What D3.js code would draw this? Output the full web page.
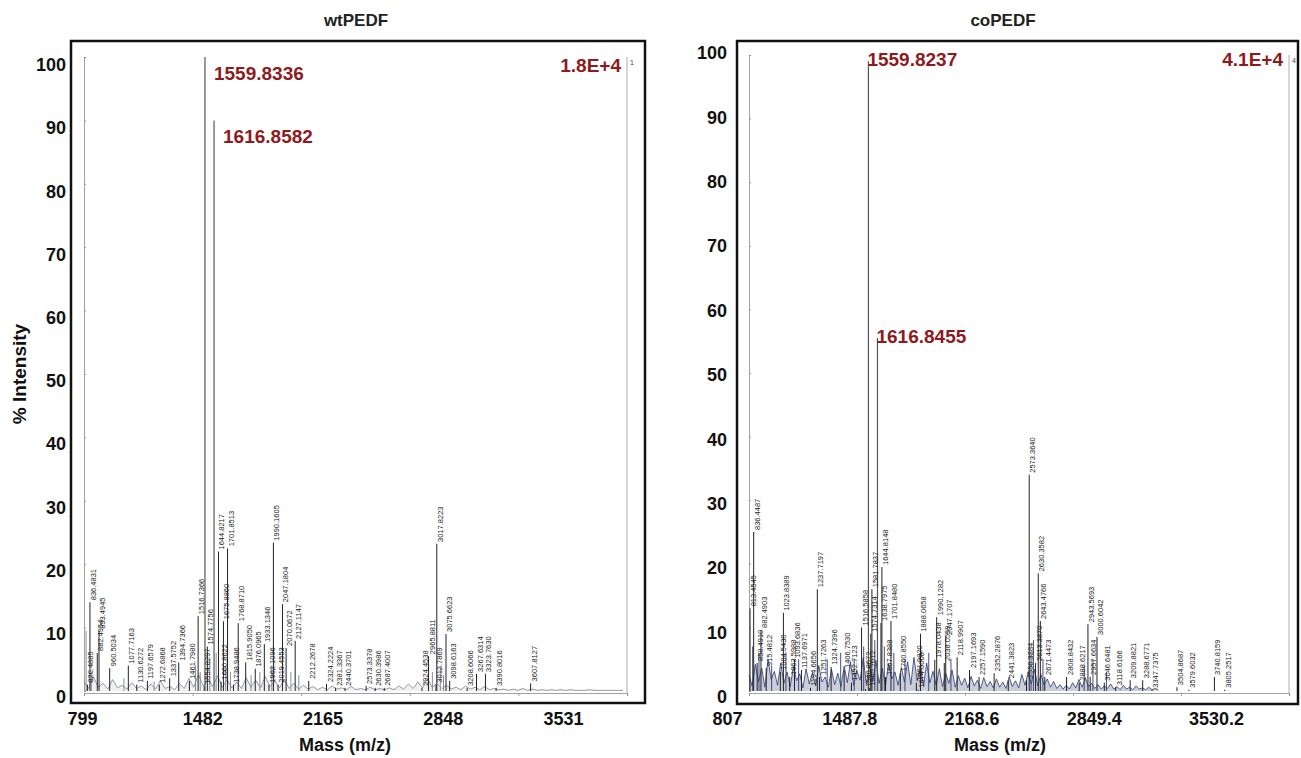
<!DOCTYPE html>
<html>
<head>
<meta charset="utf-8">
<script src="https://cdn.jsdelivr.net/npm/d3@7"></script>
<style>
  body { margin: 0; background: #fff; }
  svg { display: block; font-family: "Liberation Sans", Arial, sans-serif; }
</style>
</head>
<body>
<svg id="chart" width="1301" height="758"></svg>
<script>
// ── Data ──────────────────────────────────────────────────────────────────────
const yTicks = [0, 10, 20, 30, 40, 50, 60, 70, 80, 90, 100];

// wtPEDF
const wtXTicks = ["799", "1482", "2165", "2848", "3531"];
const wtDomain = [799, 4214];
const wtBaseScale = "1.8E+4";
const wtCornerMark = "1";
const wtPeakMz = [
  820.4885, 836.4831, 882.4954, 893.4945, 960.5034, 1077.7163, 1130.6272, 1197.6579,
  1272.6868, 1337.5752, 1394.7366, 1461.798, 1516.7366, 1554.8297, 1559.8336, 1574.7756,
  1616.8582, 1644.8217, 1660.8622, 1675.886, 1701.8513, 1738.9486, 1768.871, 1815.905,
  1876.0965, 1933.1346, 1962.1096, 1990.1605, 2019.4553, 2047.1804, 2070.0672, 2127.1147,
  2212.2678, 2324.2224, 2381.3367, 2440.3701, 2573.3378, 2630.3986, 2687.4007, 2924.4538,
  2965.8811, 3012.7869, 3017.8223, 3075.6623, 3098.6163, 3208.6066, 3267.6314, 3323.763,
  3390.8016, 3607.8127,
];
const wtPeakInt = [
  1.0, 14.0, 6.0, 9.5, 3.6, 4.0, 1.0, 1.6,
  1.0, 2.0, 4.5, 1.6, 11.8, 0.8, 100, 7.0,
  90, 22.0, 1.5, 11.0, 22.5, 1.0, 10.7, 4.5,
  3.5, 7.4, 1.0, 23.4, 1.0, 13.7, 6.8, 7.9,
  1.6, 1.1, 0.5, 0.5, 0.8, 0.5, 0.5, 0.5,
  5.5, 1.0, 23.2, 9.0, 1.6, 0.5, 2.7, 2.7,
  0.5, 1.2,
];
const wtMajor = [1559.8336, 1616.8582];
const wtMinorMz = [812, 845, 1050, 1240, 1500, 1530, 1590, 1630, 1690, 1720, 1850, 1905, 1980, 2100, 2150, 2990, 3040, 3060];
const wtMinorInt = [9.5, 3, 2, 1.5, 4, 3, 5, 6, 4, 3, 2.5, 3, 4, 3, 2.5, 3, 4, 2.5];
const wtNoiseStart = 799, wtNoiseStep = 30;
const wtNoise = [
  1.5, 0.4, 2.2, 0.6, 1.2, 0.3, 1.8, 0.5, 0.9, 0.3,
  1.3, 0.4, 0.8, 0.2, 1.1, 0.3, 1.6, 0.4, 0.7, 0.2,
  1.2, 0.4, 2.0, 0.6, 2.6, 0.8, 1.9, 0.7, 2.4, 0.6,
  1.8, 0.5, 1.4, 0.4, 2.1, 0.6, 1.7, 0.5, 2.3, 0.7,
  1.6, 0.5, 1.9, 0.4, 1.2, 0.3, 0.9, 0.3, 0.7, 0.2,
  0.6, 0.2, 0.8, 0.3, 0.5, 0.2, 0.7, 0.2, 0.4, 0.2,
  0.6, 0.2, 0.4, 0.2, 0.5, 0.2, 0.8, 0.3, 1.1, 0.4,
  1.4, 0.5, 1.9, 0.6, 1.2, 0.4, 0.9, 0.3, 0.6, 0.2,
  0.8, 0.3, 0.6, 0.2, 0.7, 0.2, 0.4, 0.2, 0.3, 0.1,
  0.3, 0.1, 0.4, 0.1, 0.3, 0.1, 0.2, 0.1, 0.2, 0.1,
  0.2, 0.1, 0.2, 0.1, 0.1, 0.1, 0.2, 0.1, 0.1, 0.1, 0.1, 0.1, 0.1, 0.1,
];

// coPEDF
const coXTicks = ["807", "1487.8", "2168.6", "2849.4", "3530.2"];
const coDomain = [807, 4211];
const coBaseScale = "4.1E+4";
const coCornerMark = "4";
const coPeakMz = [
  813.4545, 836.4487, 858.491, 882.4903, 915.4812, 1004.543, 1023.8389, 1063.5988,
  1093.6836, 1137.6971, 1194.6656, 1237.7197, 1251.7263, 1324.7396, 1406.753, 1452.7123,
  1516.5858, 1540.8672, 1559.8237, 1565.7612, 1574.7314, 1581.7837, 1616.8455, 1638.7975,
  1644.8148, 1667.8388, 1701.848, 1760.855, 1861.982, 1874.0008, 1888.0658, 1978.0438,
  1990.1282, 2038.0559, 2047.1707, 2118.9907, 2197.1693, 2257.159, 2352.2876, 2441.3823,
  2556.3384, 2573.364, 2613.387, 2630.3582, 2643.4766, 2671.4473, 2808.8432, 2888.6217,
  2943.5693, 2957.6634, 3000.6042, 3046.6481, 3118.6166, 3209.8821, 3288.6771, 3347.7375,
  3504.8687, 3579.6032, 3740.8159, 3805.2517,
];
const coPeakInt = [
  13, 25, 4.4, 9.6, 3.6, 3.0, 12.3, 2.2,
  4.9, 3.3, 0.5, 16, 2.2, 3.8, 3.3, 1.3,
  10, 0.3, 99, 0.5, 9.0, 16, 55.5, 10.7,
  19.5, 2.2, 11, 2.8, 1.3, 0.2, 9.0, 4.9,
  11.6, 4.4, 8.5, 5.3, 3.3, 2.2, 2.8, 1.7,
  1.7, 34, 4.4, 18.5, 11, 2.2, 2.2, 1.3,
  10.5, 2.2, 8.5, 1.3, 0.6, 1.7, 1.7, 0.2,
  0.6, 0.2, 2.2, 0.2,
];
const coMajor = [1559.8237, 1616.8455];
const coMinorMz = [830, 870, 950, 1040, 1120, 1300, 1385, 1470, 1530, 1600, 1660, 1720, 1790, 1940, 2080, 2585, 2600, 2660, 2920, 2975, 3060];
const coMinorInt = [7, 6, 4, 6, 5, 5, 6, 5, 7, 8, 7, 6, 5, 6, 5, 6, 8, 5, 4, 5, 3];
const coNoiseStart = 807, coNoiseStep = 20;
const coNoise = [
  2.5, 0.8, 4.2, 1.5, 3.6, 0.6, 5.0, 1.8, 3.1, 0.9,
  4.4, 1.2, 3.0, 0.7, 3.8, 1.6, 2.7, 0.5, 3.5, 1.1,
  2.9, 0.8, 4.0, 1.4, 2.2, 0.6, 3.4, 1.0, 2.8, 0.7,
  3.9, 1.3, 4.6, 0.9, 3.2, 1.7, 5.2, 1.1, 4.0, 1.5,
  4.8, 1.2, 3.6, 0.8, 4.3, 1.9, 3.0, 0.9, 3.7, 1.4,
  4.6, 1.0, 5.3, 1.6, 3.9, 0.8, 4.4, 1.3, 3.1, 0.9,
  3.5, 0.7, 2.8, 1.2, 3.3, 0.6, 2.4, 0.9, 2.0, 0.5,
  2.3, 0.8, 1.7, 0.4, 2.1, 0.7, 1.5, 0.5, 1.9, 0.6,
  1.4, 0.4, 2.2, 0.7, 1.6, 0.5, 2.6, 0.9, 3.0, 1.1,
  3.4, 0.8, 2.6, 1.0, 1.9, 0.6, 1.5, 0.4, 1.0, 0.3,
  0.9, 0.3, 1.3, 0.5, 1.8, 0.6, 2.1, 0.7, 1.2, 0.4,
  1.0, 0.3, 0.8, 0.4, 1.1, 0.3, 0.7, 0.2, 0.9, 0.3,
  0.6, 0.2, 0.8, 0.3, 0.5, 0.2, 0.6, 0.2, 0.4, 0.2,
];

// ── Drawing ───────────────────────────────────────────────────────────────────
const svg = d3.select("#chart");
const RED = "#8f1a1d";

function drawPanel(p) {
  const g = svg.append("g");
  const x = d3.scaleLinear().domain(p.domain).range(p.specX);
  const y = d3.scaleLinear().domain([0, 100]).range(p.specY);
  const yLab = d3.scaleLinear().domain([0, 100]).range(p.labelY);
  const xLab = d3.scalePoint().domain(p.xTicks).range(p.labelX);

  // outer frame
  g.append("rect")
    .attr("x", p.frame[0]).attr("y", p.frame[1])
    .attr("width", p.frame[2] - p.frame[0])
    .attr("height", p.frame[3] - p.frame[1])
    .attr("fill", "none").attr("stroke", "#111").attr("stroke-width", 2.5);

  // spectrum's own thin axes
  const innerX = g.append("g")
    .attr("transform", `translate(0,${p.specY[0] + 2})`)
    .call(d3.axisBottom(x).tickValues(p.xTicks.map(Number).concat(p.domain[1])).tickSize(3).tickFormat(""));
  const innerY = g.append("g")
    .attr("transform", `translate(${p.specX[0]},0)`)
    .call(d3.axisLeft(y).tickValues(yTicks).tickSize(-2).tickFormat(""));
  [innerX, innerY].forEach((a) => a.selectAll("path,line").attr("stroke", "#8a8a8a").attr("stroke-width", 0.8));
  g.append("line")
    .attr("x1", p.specX[1]).attr("x2", p.specX[1])
    .attr("y1", y(100)).attr("y2", p.specY[0] + 2)
    .attr("stroke", "#9a9a9a").attr("stroke-width", 0.8);
  g.append("text")
    .attr("x", p.specX[1] + 3).attr("y", y(100) + 8)
    .attr("font-size", 7).attr("fill", "#444")
    .text(p.cornerMark);

  // baseline noise trace
  const noisePts = p.noise.map((v, i) => [p.noiseStart + i * p.noiseStep, v]);
  g.append("path")
    .datum(noisePts)
    .attr("d", d3.area().x((d) => x(d[0])).y0(y(0)).y1((d) => y(d[1])))
    .attr("fill", p.noiseColor).attr("fill-opacity", p.noiseFill);
  g.append("path")
    .datum(noisePts)
    .attr("d", d3.line().x((d) => x(d[0])).y((d) => y(d[1])))
    .attr("fill", "none").attr("stroke", p.noiseColor).attr("stroke-width", 0.8);

  // unlabelled peaks
  g.append("g").selectAll("line")
    .data(p.minorMz.map((m, i) => [m, p.minorInt[i]]))
    .join("line")
    .attr("x1", (d) => x(d[0])).attr("x2", (d) => x(d[0]))
    .attr("y1", y(0)).attr("y2", (d) => y(d[1]))
    .attr("stroke", p.noiseColor).attr("stroke-width", 0.9);

  // labelled peaks
  const peaks = p.peakMz.map((m, i) => ({ mz: m, v: p.peakInt[i], major: p.major.includes(m) }));
  g.append("g").selectAll("line")
    .data(peaks)
    .join("line")
    .attr("x1", (d) => x(d.mz)).attr("x2", (d) => x(d.mz))
    .attr("y1", y(0)).attr("y2", (d) => y(d.v))
    .attr("stroke", (d) => (d.major ? "#555" : "#222"))
    .attr("stroke-width", (d) => (d.major ? 1.2 : 1));

  g.append("g").selectAll("text")
    .data(peaks.filter((d) => !d.major))
    .join("text")
    .attr("transform", (d) => `translate(${x(d.mz) + 6},${y(d.v) - 2}) rotate(-90)`)
    .attr("font-family", '"Liberation Sans Narrow", "Arial Narrow", "Liberation Sans", sans-serif')
    .attr("font-size", 7.5).attr("fill", "#222")
    .text((d) => d.mz.toFixed(4));

  // big red annotations
  g.append("g").selectAll("text")
    .data(peaks.filter((d) => d.major))
    .join("text")
    .attr("x", (d) => x(d.mz) + p.majorDx)
    .attr("y", (d) => y(d.v) + p.majorDy)
    .attr("font-size", 19).attr("font-weight", "bold").attr("fill", RED)
    .text((d) => d.mz.toFixed(4));
  g.append("text")
    .attr("x", p.specX[1] - 6).attr("y", y(100) + p.scaleDy)
    .attr("text-anchor", "end")
    .attr("font-size", 19).attr("font-weight", "bold").attr("fill", RED)
    .text(p.baseScale);

  // outer axis labels
  const yAx = g.append("g")
    .attr("transform", `translate(${p.labelYX},0)`)
    .call(d3.axisLeft(yLab).tickValues(yTicks).tickSize(0).tickPadding(0));
  const xAx = g.append("g")
    .attr("transform", `translate(0,${p.labelXY})`)
    .call(d3.axisBottom(xLab).tickSize(0).tickPadding(0));
  [yAx, xAx].forEach((a) => {
    a.select(".domain").remove();
    a.selectAll("text")
      .attr("font-family", '"Liberation Sans", Arial, sans-serif')
      .attr("font-size", 18).attr("font-weight", "bold").attr("fill", "#111");
  });

  g.append("text")
    .attr("x", p.titleX).attr("y", 26)
    .attr("text-anchor", "middle")
    .attr("font-size", 17).attr("font-weight", "bold").attr("fill", "#222")
    .text(p.title);
  g.append("text")
    .attr("x", p.massX).attr("y", 751)
    .attr("text-anchor", "middle")
    .attr("font-size", 18).attr("font-weight", "bold").attr("fill", "#111")
    .text("Mass (m/z)");
}

drawPanel({
  title: "wtPEDF", titleX: 356, massX: 345,
  domain: wtDomain, xTicks: wtXTicks, baseScale: wtBaseScale, cornerMark: wtCornerMark,
  frame: [71, 41, 645, 703],
  specX: [84, 627], specY: [691, 57],
  labelY: [697, 65], labelYX: 66,
  labelX: [82, 563], labelXY: 712,
  peakMz: wtPeakMz, peakInt: wtPeakInt, major: wtMajor,
  minorMz: wtMinorMz, minorInt: wtMinorInt,
  noise: wtNoise, noiseStart: wtNoiseStart, noiseStep: wtNoiseStep,
  noiseColor: "#7d8190", noiseFill: 0.12,
  majorDx: 9, majorDy: 23, scaleDy: 15,
});

drawPanel({
  title: "coPEDF", titleX: 1003, massX: 1000,
  domain: coDomain, xTicks: coXTicks, baseScale: coBaseScale, cornerMark: coCornerMark,
  frame: [737, 41, 1298, 704],
  specX: [749, 1289], specY: [691, 55],
  labelY: [697, 53], labelYX: 727,
  labelX: [727, 1216], labelXY: 712,
  peakMz: coPeakMz, peakInt: coPeakInt, major: coMajor,
  minorMz: coMinorMz, minorInt: coMinorInt,
  noise: coNoise, noiseStart: coNoiseStart, noiseStep: coNoiseStep,
  noiseColor: "#2d3a6e", noiseFill: 0.25,
  majorDx: -1, majorDy: 5, scaleDy: 11,
});

svg.append("text")
  .attr("transform", "translate(26,374) rotate(-90)")
  .attr("text-anchor", "middle")
  .attr("font-size", 19).attr("font-weight", "bold").attr("fill", "#111")
  .text("% Intensity");
</script>
</body>
</html>
